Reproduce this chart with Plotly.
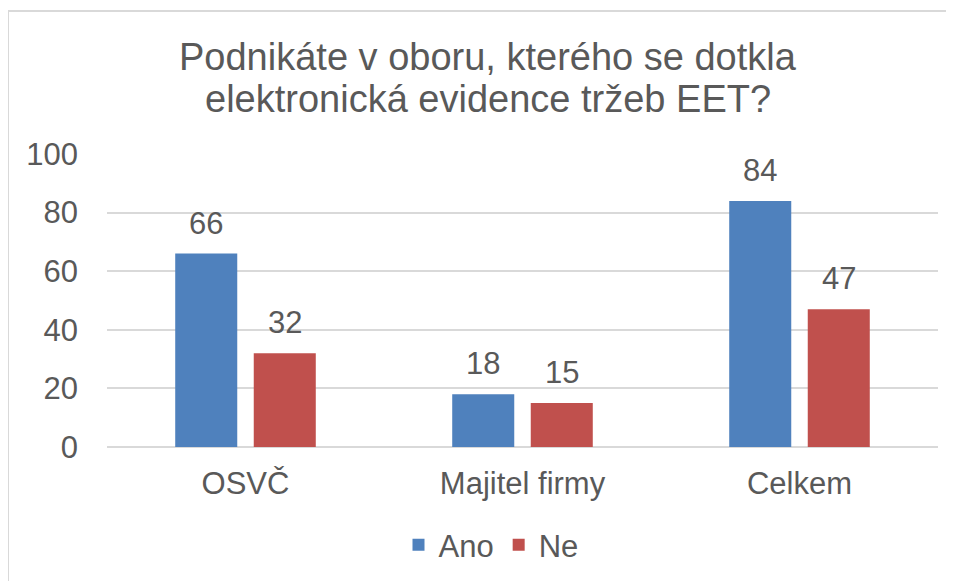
import plotly.graph_objects as go

categories = ["OSVČ", "Majitel firmy", "Celkem"]
ano_values = [66, 18, 84]
ne_values = [32, 15, 47]
series_names = ["Ano", "Ne"]
y_ticks = [0, 20, 40, 60, 80, 100]
title_line1 = "Podnikáte v oboru, kterého se dotkla"
title_line2 = "elektronická evidence tržeb EET?"

FONT = "Liberation Sans, Arial, sans-serif"
TXT = "#595959"
GRID = "#D9D9D9"
COLORS = ["#4F81BD", "#C0504D"]
FS = 31

W, H = 954, 581
OFF = 8  # page body margin offset in the screenshot
# plot area in screenshot pixels: x 107..938, y 154..447
ml = 107 - OFF
mr = W - (938 - OFF)
mt = 154 - OFF
mb = H - (447 - OFF)
BARGAP, BARGROUPGAP = 0.433, 0.21

pw = W - ml - mr
ph = H - mt - mb


def px_x(p):
    return (p - OFF - ml) / pw


def px_y(p):
    return (H - mb - (p - OFF)) / ph


fig = go.Figure()
series = [ano_values, ne_values]
for name, vals, col in zip(series_names, series, COLORS):
    fig.add_trace(go.Bar(
        x=categories, y=vals, name=name,
        marker=dict(color=col, line=dict(width=0)),
    ))

# data labels above bars, anchored at data coordinates
slot = pw / len(categories) * (1 - BARGAP) / len(series)
for i, vals in enumerate(series):
    shift = (i - (len(series) - 1) / 2) * slot
    for cat, v in zip(categories, vals):
        fig.add_annotation(x=cat, y=v, xref="x", yref="y", text=str(v),
                           showarrow=False, xanchor="center", yanchor="bottom",
                           xshift=shift, yshift=11,
                           font=dict(size=FS, color=TXT, family=FONT))

# title lines
fig.add_annotation(text=title_line1, xref="paper", yref="paper",
                   x=px_x(488), y=px_y(57), xanchor="center", yanchor="middle",
                   showarrow=False, font=dict(size=38, color=TXT, family=FONT))
fig.add_annotation(text=title_line2, xref="paper", yref="paper",
                   x=px_x(488), y=px_y(99), xanchor="center", yanchor="middle",
                   showarrow=False, font=dict(size=38, color=TXT, family=FONT))

# outer chart border (left and top edges only visible)
fig.add_shape(type="line", xref="paper", yref="paper",
              x0=px_x(8), x1=px_x(8), y0=px_y(11), y1=px_y(H + 20),
              line=dict(color=GRID, width=2))
fig.add_shape(type="line", xref="paper", yref="paper",
              x0=px_x(8), x1=px_x(W + 20), y0=px_y(11), y1=px_y(11),
              line=dict(color=GRID, width=2))

fig.update_layout(
    width=W, height=H,
    margin=dict(l=ml, r=mr, t=mt, b=mb, pad=0, autoexpand=False),
    paper_bgcolor="white", plot_bgcolor="white",
    font=dict(family=FONT, color=TXT, size=FS),
    barmode="group", bargap=BARGAP, bargroupgap=BARGROUPGAP,
    showlegend=True,
    legend=dict(orientation="h", xref="container", yref="container",
                x=(491 - OFF) / W, xanchor="center",
                y=1 - (545 - OFF) / H, yanchor="middle",
                font=dict(size=FS, color=TXT, family=FONT),
                itemwidth=30, traceorder="normal"),
    xaxis=dict(showgrid=False, showline=False, ticks="", automargin=False,
               tickfont=dict(size=FS, color=TXT, family=FONT),
               ticklabelstandoff=15),
    yaxis=dict(range=[0, 100], tickvals=y_ticks, showgrid=True,
               gridcolor=GRID, gridwidth=1.5, zeroline=True, automargin=False,
               zerolinecolor=GRID, zerolinewidth=1.5, showline=False,
               ticks="", tickfont=dict(size=FS, color=TXT, family=FONT),
               ticklabelstandoff=28),
)

fig.write_html("out.html")
